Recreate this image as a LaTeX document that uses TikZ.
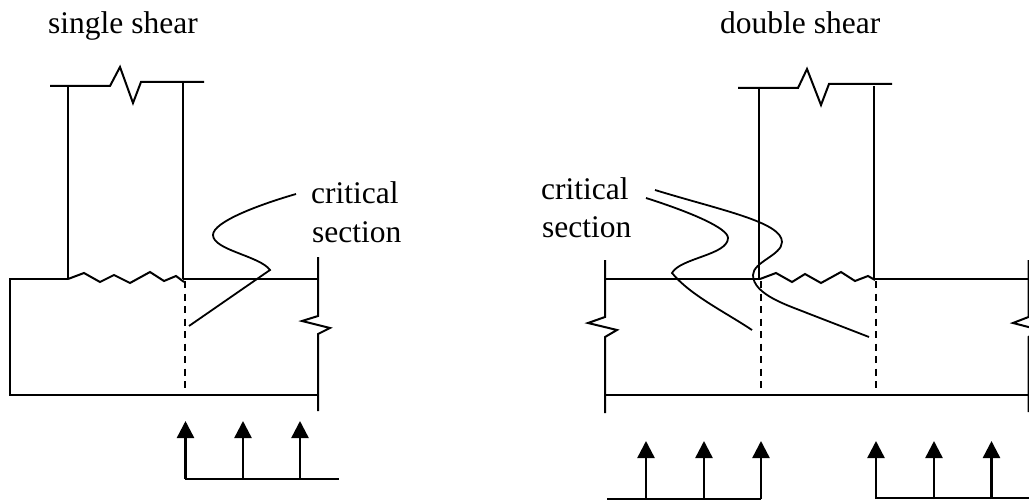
\documentclass[tikz,border=0pt]{standalone}
\usepackage{fontspec}
\setmainfont{Liberation Serif}
\usetikzlibrary{arrows.meta}
\tikzset{
 member/.style={line width=2pt,line join=miter},
 leader/.style={line width=1.8pt},
 cutline/.style={line width=2pt,dash pattern=on 7pt off 5.5pt},
 loadarrow/.style={line width=2.4pt,-{Triangle[width=17pt,length=17pt]}},
 caption/.style={font=\fontsize{31.5}{31.5}\selectfont,inner sep=0pt,anchor=base west}
}
\begin{document}
\begin{tikzpicture}[x=1pt,y=-1pt]
 \useasboundingbox (0,0) rectangle (1029,500);
 \clip (0,0) rectangle (1029,500);
 % single shear
 \node[caption] (singletitle) at (48,34) {single shear};
 \node[caption] (leftcritical) at (311,204) {critical};
 \node[caption] (leftsection) at (312,242) {section};
 \draw[member](50,86)--(110,86)--(120,67)--(133,103)--(141,82)--(204,82);
 \draw[member](68,86)--(68,279);
 \draw[member](183,82)--(183,279);
 \draw[member](68,279)--(84,273)--(100,282)--(114,275)--(130,283)--(150,272)--(164,281)--(176,276)--(184,282);
 \draw[member](183,279)--(318,279);
 \draw[member](68,279)--(10,279)--(10,395)--(318,395);
 \draw[member](318,257)--(318,316)--(302,321)--(330,328)--(318,334)--(318,411);
 \draw[cutline](185,281)--(185,391);
 \draw[leader](296,194) .. controls (258,205) and (213,222) .. (213,235) .. controls (213,250) and (260,256) .. (270,270) -- (189,326);
 \foreach \xa in {185.5,243,300}
  \draw[loadarrow](\xa,479)--(\xa,421);
 \draw[member](185,479)--(339,479);
 % double shear
 \node[caption] (doubletitle) at (720,34) {double shear};
 \node[caption] (rightcritical) at (541,200) {critical};
 \node[caption] (rightsection) at (542,237) {section};
 \draw[member](738,88)--(798,88)--(807,69)--(821,105)--(829,84)--(892,84);
 \draw[member](759,87)--(759,279);
 \draw[member](874,86)--(874,279);
 \draw[member](760,279)--(776,273)--(792,282)--(805,274)--(821,283)--(841,272)--(855,281)--(868,276)--(875,280);
 \draw[member](605,279)--(760,279);
 \draw[member](875,279)--(1029,279);
 \draw[member](605,395)--(1029,395);
 \draw[member](605,260)--(605,317)--(588,323)--(617,330)--(605,337)--(605,413);
 \draw[member](1028.5,260)--(1028.5,317)--(1013,323)--(1040,330)--(1028.5,337)--(1028.5,412);
 \draw[cutline](761,281)--(761,391);
 \draw[cutline](876,281)--(876,391);
 \draw[leader](646,198) .. controls (690,212) and (728,228) .. (728,238) .. controls (728,255) and (680,258) .. (672,273) .. controls (690,295) and (725,312) .. (752,330);
 \draw[leader](655,190) .. controls (720,210) and (782,222) .. (782,242) .. controls (782,255) and (753,262) .. (753,275) .. controls (753,295) and (790,306) .. (807,313) -- (869,337);
 \foreach \xa in {646,704,761,876,934,991.5}
  \draw[loadarrow](\xa,499)--(\xa,441);
 \draw[member](607,499)--(761,499);
 \draw[member](876,498)--(1029,498);
\end{tikzpicture}
\end{document}
